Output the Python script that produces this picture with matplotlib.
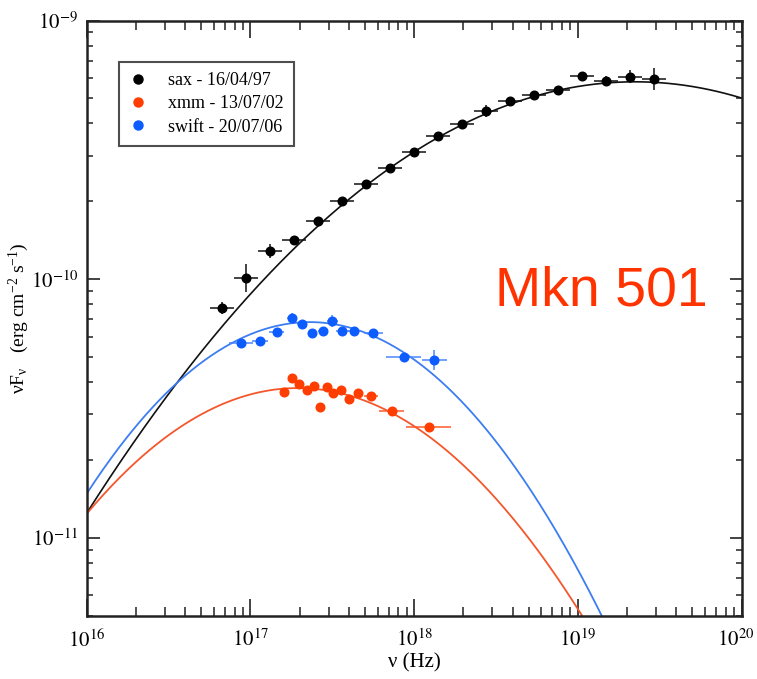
import numpy as np
import matplotlib
matplotlib.use("Agg")
import matplotlib.pyplot as plt
import matplotlib.transforms as mtransforms
from matplotlib.lines import Line2D
from matplotlib.ticker import LogLocator, FuncFormatter, NullFormatter

plt.rcParams['font.family'] = ['Liberation Serif', 'DejaVu Serif']
plt.rcParams['mathtext.fontset'] = 'stix'

# ---------------- data (log10 values) ----------------
sax_log_nu = [16.825, 16.973, 17.118, 17.266, 17.411, 17.560, 17.704, 17.853, 17.999, 18.148,
              18.293, 18.439, 18.588, 18.733, 18.881, 19.026, 19.174, 19.321, 19.467]
sax_log_f = [-10.113, -9.995, -9.892, -9.847, -9.776, -9.698, -9.631, -9.569, -9.508, -9.445,
             -9.399, -9.350, -9.311, -9.287, -9.268, -9.215, -9.233, -9.217, -9.227]
sax_dx = [0.073] * 19
sax_dy = [0.023, 0.055, 0.027, 0.012, 0.010, 0.010, 0.010, 0.010, 0.010, 0.010,
          0.012, 0.022, 0.012, 0.010, 0.010, 0.010, 0.020, 0.025, 0.043]

swift_log_nu = [16.943, 17.057, 17.161, 17.252, 17.317, 17.378, 17.442, 17.500, 17.560, 17.633,
                17.749, 17.936, 18.122]
swift_log_f = [-10.246, -10.239, -10.206, -10.152, -10.173, -10.210, -10.200, -10.163, -10.201,
               -10.200, -10.210, -10.300, -10.314]
swift_dx = [0.075, 0.050, 0.045, 0.030, 0.030, 0.025, 0.030, 0.035, 0.040, 0.035, 0.058, 0.108, 0.076]
swift_dy = [0.015, 0.015, 0.015, 0.020, 0.015, 0.015, 0.015, 0.023, 0.015, 0.015, 0.015, 0.020, 0.039]

xmm_log_nu = [17.203, 17.254, 17.299, 17.344, 17.387, 17.427, 17.470, 17.506, 17.552, 17.600,
              17.659, 17.737, 17.863, 18.089]
xmm_log_f = [-10.436, -10.383, -10.407, -10.430, -10.414, -10.495, -10.417, -10.440, -10.430,
             -10.462, -10.440, -10.453, -10.510, -10.571]
xmm_dx = [0.015, 0.015, 0.015, 0.015, 0.015, 0.015, 0.015, 0.015, 0.015, 0.015, 0.015, 0.040, 0.075, 0.137]
xmm_dy = [0.010] * 14

# log-parabola fits: (log peak frequency, log peak flux, curvature)
sax_fit = (19.35, -9.237, 0.1486)
swift_fit = (17.363, -10.166, 0.357)
xmm_fit = (17.29, -10.421, 0.292)

labels = ["sax - 16/04/97", "xmm - 13/07/02", "swift - 20/07/06"]
x_limits = (1e16, 1e20)
y_limits = (5e-12, 1e-9)

# ---------------- styling ----------------
c_black = '#000000'
c_red_pt = '#ff3d00'
c_red_ln = '#f4572c'
c_blue_pt = '#0d5cff'
c_blue_ln = '#3d7df2'
c_blue_bar = '#4a86ff'
c_red_bar = '#ff5a2a'

fig = plt.figure(figsize=(7.57, 6.79), dpi=100)
ax = fig.add_axes([86.7 / 757, 1 - 615.7 / 679, (741.5 - 86.7) / 757, (615.7 - 20.5) / 679])
ax.set_xscale('log')
ax.set_yscale('log')
ax.set_xlim(*x_limits)
ax.set_ylim(*y_limits)

lx = np.linspace(16, 20, 400)


def logpar(fit):
    x0, p, k = fit
    return 10 ** (p - k * (lx - x0) ** 2)


ax.plot(10 ** lx, logpar(sax_fit), color='#111111', lw=1.2, zorder=2)
ax.plot(10 ** lx, logpar(swift_fit), color=c_blue_ln, lw=1.3, zorder=2)
ax.plot(10 ** lx, logpar(xmm_fit), color=c_red_ln, lw=1.3, zorder=2)


def draw(lnu, lf, dx, dy, mc, bc):
    lnu = np.array(lnu); lf = np.array(lf); dx = np.array(dx); dy = np.array(dy)
    x = 10 ** lnu
    y = 10 ** lf
    xe = [x - 10 ** (lnu - dx), 10 ** (lnu + dx) - x]
    ye = [y - 10 ** (lf - dy), 10 ** (lf + dy) - y]
    ax.errorbar(x, y, xerr=xe, yerr=ye, fmt='none', ecolor=bc, elinewidth=1.1,
                capsize=0, zorder=3)
    ax.plot(x, y, 'o', color=mc, ms=6.2, mec=mc, zorder=4)


draw(sax_log_nu, sax_log_f, sax_dx, sax_dy, c_black, '#111111')
draw(swift_log_nu, swift_log_f, swift_dx, swift_dy, c_blue_pt, c_blue_bar)
draw(xmm_log_nu, xmm_log_f, xmm_dx, xmm_dy, c_red_pt, c_red_bar)

# ---------------- axes styling ----------------
for s in ax.spines.values():
    s.set_linewidth(1.8)
    s.set_color('#222222')

ax.xaxis.set_major_locator(LogLocator(base=10, numticks=10))
ax.xaxis.set_minor_locator(LogLocator(base=10, subs=np.arange(2, 10), numticks=50))
ax.yaxis.set_major_locator(LogLocator(base=10, numticks=10))
ax.yaxis.set_minor_locator(LogLocator(base=10, subs=np.arange(2, 10), numticks=50))
fmt = FuncFormatter(lambda v, p: r'$10^{%d}$' % int(round(np.log10(v))))
ax.xaxis.set_major_formatter(fmt)
ax.yaxis.set_major_formatter(fmt)
ax.xaxis.set_minor_formatter(NullFormatter())
ax.yaxis.set_minor_formatter(NullFormatter())

ax.tick_params(axis='x', which='major', direction='in', length=12, width=1.2, top=True,
               labelsize=15, pad=10, color='#222222')
ax.tick_params(axis='x', which='minor', direction='in', length=6.5, width=1.1, top=True,
               color='#222222')
ax.tick_params(axis='y', which='major', direction='in', length=9, width=1.2, right=True,
               labelsize=15, pad=6, color='#222222')
ax.tick_params(axis='y', which='minor', direction='in', length=4.5, width=1.1, right=True,
               color='#222222')

ax.set_xlabel('ν (Hz)', fontsize=15, labelpad=1)
ax.set_ylabel('νF$\\mathregular{_ν}$   (erg cm$\\mathregular{^{-2}}$ s$\\mathregular{^{-1}}$)',
              fontsize=14, labelpad=0)

fig.canvas.draw()
# nudge the right-most x tick label so it stays inside the figure
xt = ax.xaxis.get_majorticklabels()
for t in xt:
    if t.get_text() == r'$10^{20}$':
        t.set_transform(t.get_transform() + mtransforms.ScaledTranslation(-6 / 100, 0, fig.dpi_scale_trans))

# ---------------- legend ----------------
handles = [Line2D([], [], ls='none', marker='o', color=c_black, ms=6.5),
           Line2D([], [], ls='none', marker='o', color=c_red_pt, ms=6.5),
           Line2D([], [], ls='none', marker='o', color=c_blue_pt, ms=6.5)]
leg = ax.legend(handles, labels, loc='upper left', bbox_to_anchor=(0.049, 0.930),
                borderaxespad=0, fontsize=13, frameon=True, fancybox=False,
                handlelength=1.0, handletextpad=1.2, labelspacing=0.35, borderpad=0.55)
leg.get_frame().set_edgecolor('#222222')
leg.get_frame().set_linewidth(1.5)

fig.text(495 / 757, 1 - 305 / 679, 'Mkn 501', color='#ff3300', fontsize=40,
         family='Liberation Sans', ha='left', va='baseline')

fig.savefig('out.png', dpi=100, facecolor='white')
